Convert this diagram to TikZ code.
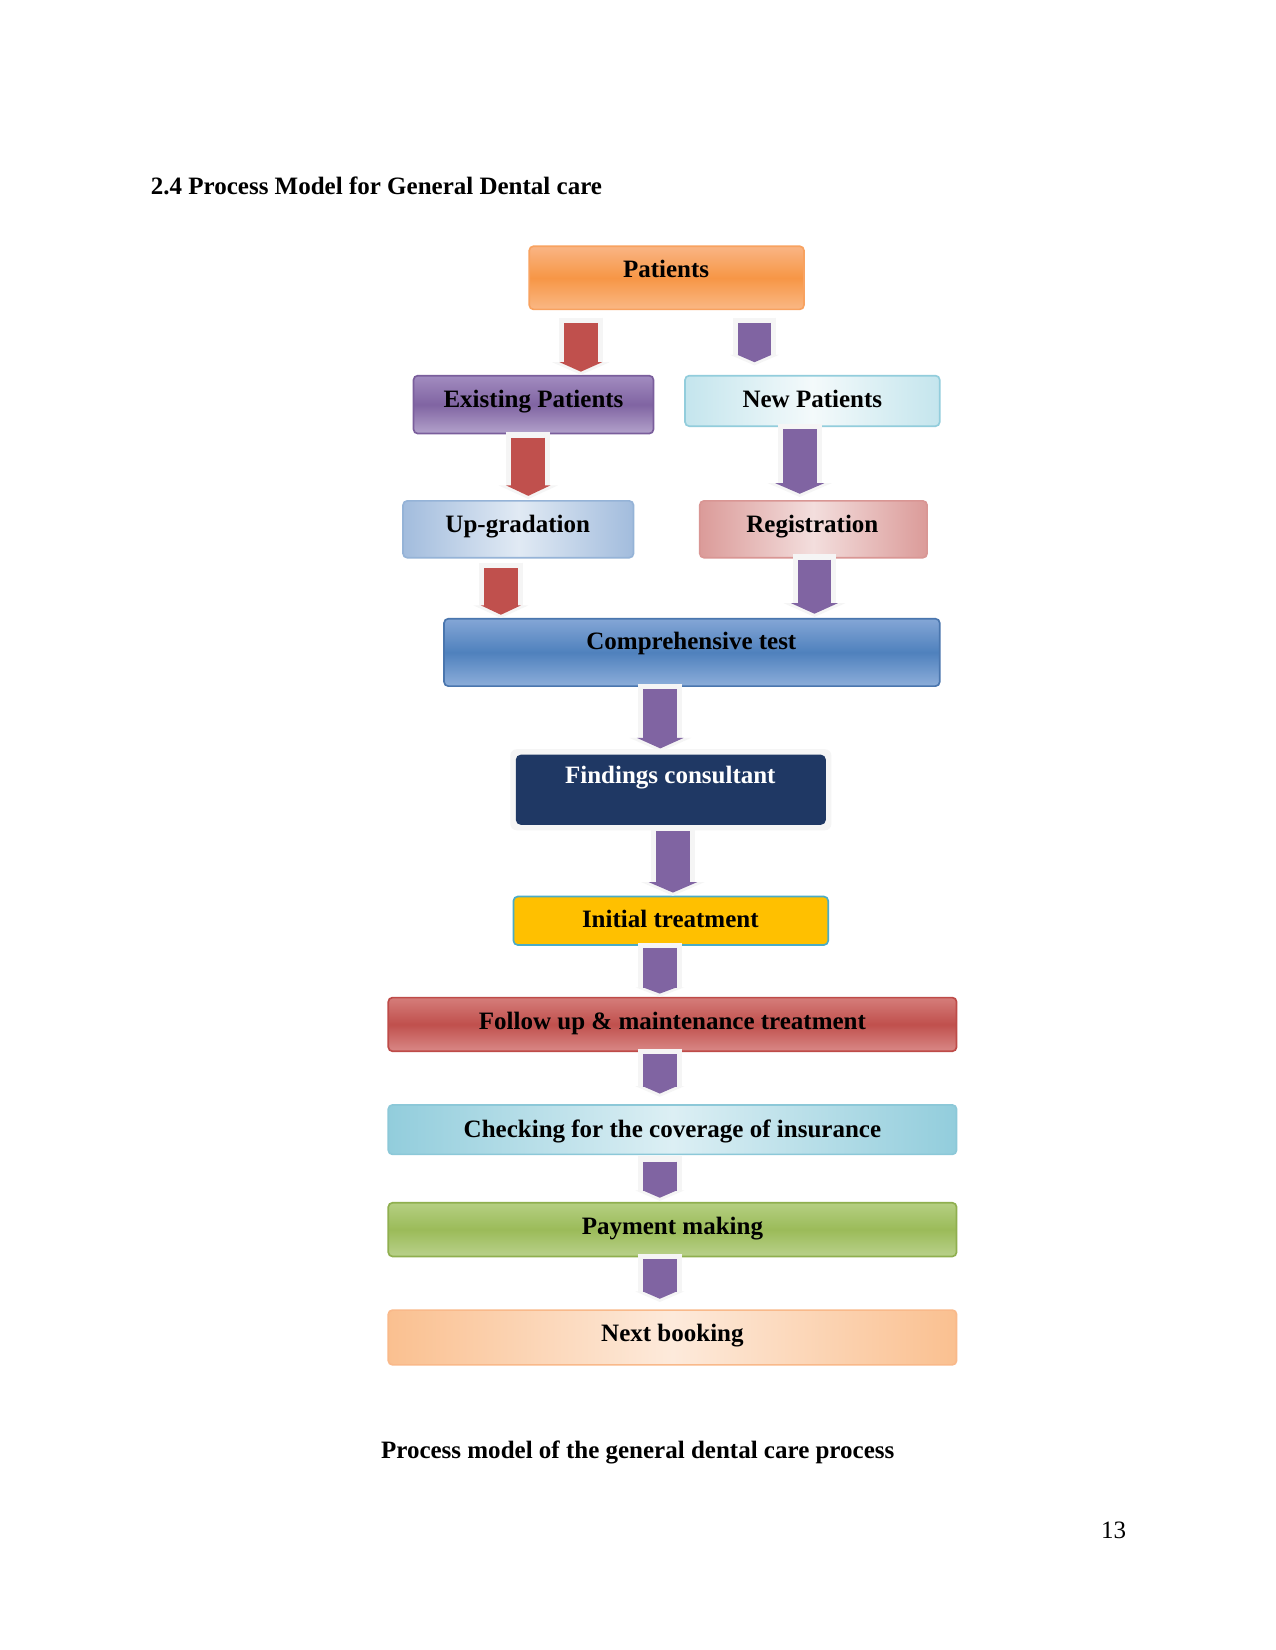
\documentclass[tikz,border=0pt]{standalone}
\usepackage{fontspec}
\setmainfont{Liberation Serif}
\usetikzlibrary{arrows.meta}
\definecolor{Or}{HTML}{F79646}\definecolor{OrTop}{HTML}{F9B584}\definecolor{OrBot}{HTML}{FAB885}\definecolor{OrBorder}{HTML}{F8A260}
\definecolor{Pu}{HTML}{8064A2}\definecolor{PuTop}{HTML}{A28CC0}\definecolor{PuBot}{HTML}{B3A2CB}\definecolor{PuBorder}{HTML}{7A5E9C}
\definecolor{NwEdge}{HTML}{C4E5ED}\definecolor{NwMid}{HTML}{F4FAFB}\definecolor{NwBorder}{HTML}{92CDDC}
\definecolor{UpEdge}{HTML}{A2BCDD}\definecolor{UpMid}{HTML}{E1EAF4}\definecolor{UpBorder}{HTML}{95B3D7}
\definecolor{RgEdge}{HTML}{DB9B99}\definecolor{RgMid}{HTML}{F3DEDD}\definecolor{RgBorder}{HTML}{D99694}
\definecolor{Bl}{HTML}{4F81BD}\definecolor{BlTop}{HTML}{84A6D6}\definecolor{BlBot}{HTML}{8DAEDA}\definecolor{BlBorder}{HTML}{4A76AE}
\definecolor{Navy}{HTML}{1F3864}
\definecolor{Gold}{HTML}{FFC000}\definecolor{Teal}{HTML}{4BACC6}
\definecolor{Rd}{HTML}{C0504D}\definecolor{RdTop}{HTML}{D57D7A}\definecolor{RdBot}{HTML}{D98886}\definecolor{RdBorder}{HTML}{BE4B48}
\definecolor{CkEdge}{HTML}{92CDDC}\definecolor{CkMid}{HTML}{DCEFF4}\definecolor{CkBorder}{HTML}{8CC8D8}
\definecolor{Gr}{HTML}{9BBB59}\definecolor{GrTop}{HTML}{B5CF82}\definecolor{GrBot}{HTML}{B9D18B}\definecolor{GrBorder}{HTML}{8FAF4F}
\definecolor{NbEdge}{HTML}{FAC090}\definecolor{NbMid}{HTML}{FDEADB}\definecolor{NbBorder}{HTML}{F9B98A}
\definecolor{ArRed}{HTML}{C0504D}\definecolor{ArPur}{HTML}{8064A2}
% #1 colour, #2 from, #3 to, #4 x coordinate, #5 gap start px, #6 gap end px, #7 head width px, #8 head length px
\newcommand{\blockarr}[8]{%
  \pgfmathsetmacro\bsA{#5*0.505}%
  \pgfmathsetmacro\beA{#6*0.505}%
  \pgfmathsetmacro\bhw{#7*0.505}%
  \pgfmathsetmacro\bhl{#8*0.505}%
  \pgfmathsetmacro\hsA{(#5-5)*0.505}%
  \pgfmathsetmacro\heA{(#6-3)*0.505}%
  \pgfmathsetmacro\hhw{(#7+14)*0.505}%
  \pgfmathsetmacro\hhl{(#8+3)*0.505}%
  \draw[halo, shorten <=\hsA pt, shorten >=\heA pt, -{Triangle[width=\hhw pt, length=\hhl pt]}] (#2.south -| #4) -- (#3.north -| #4);
  \draw[line width=16.2pt, draw=#1, shorten <=\bsA pt, shorten >=\beA pt, -{Triangle[width=\bhw pt, length=\bhl pt]}] (#2.south -| #4) -- (#3.north -| #4);
}
\begin{document}
\begin{tikzpicture}[x=0.505pt,y=-0.505pt,
  box/.style={draw, rounded corners=2pt, line width=0.8pt, inner sep=0pt},
  bx/.style 2 args={minimum width=#1*0.505pt, minimum height=#2*0.505pt},
  txt/.style={anchor=base, inner sep=0pt, font=\fontsize{12}{14}\selectfont\bfseries},
  plain/.style={inner sep=0pt, font=\fontsize{12}{14}\selectfont},
  halo/.style={line width=21pt, draw=black!4},
  orangeV/.style={draw=OrBorder, top color=OrTop, bottom color=OrBot, middle color=Or},
  purpleV/.style={draw=PuBorder, top color=PuTop, bottom color=PuBot, middle color=Pu},
  newH/.style={draw=NwBorder, left color=NwEdge, right color=NwEdge, middle color=NwMid},
  upH/.style={draw=UpBorder, left color=UpEdge, right color=UpEdge, middle color=UpMid},
  regH/.style={draw=RgBorder, left color=RgEdge, right color=RgEdge, middle color=RgMid},
  blueV/.style={draw=BlBorder, top color=BlTop, bottom color=BlBot, middle color=Bl},
  redV/.style={draw=RdBorder, top color=RdTop, bottom color=RdBot, middle color=Rd},
  checkH/.style={draw=CkBorder, left color=CkEdge, right color=CkEdge, middle color=CkMid},
  greenV/.style={draw=GrBorder, top color=GrTop, bottom color=GrBot, middle color=Gr},
  nextH/.style={draw=NbBorder, left color=NbEdge, right color=NbEdge, middle color=NbMid}
]
\useasboundingbox[fill=white] (0,0) rectangle (1212,1568);

% title, caption, page number
\node[txt, anchor=base west] (title) at (143,185) {2.4 Process Model for General Dental care};
\node[txt] (caption) at (606,1386) {Process model of the general dental care process};
\node[plain, anchor=base west] (pageno) at (1046,1462) {13};

% glow behind findings box
\node[fill=black!4, rounded corners=3pt, inner sep=0pt, bx={305}{77}] (glow) at (637.5,750.5) {};

% boxes
\node[box, orangeV, bx={261}{60}] (pat) at (633.5,264) {};
\node[box, purpleV, bx={228}{55}] (exi) at (507,384.5) {};
\node[box, newH, bx={242}{48}] (new) at (772,381) {};
\node[box, upH, bx={219}{54}] (upg) at (492.5,503) {};
\node[box, regH, bx={216}{54}] (reg) at (773,503) {};
\node[box, blueV, bx={471}{64}] (comp) at (657.5,620) {};
\node[box, draw=Navy, fill=Navy, bx={293}{65}] (find) at (637.5,750.5) {};
\node[box, draw=Teal, fill=Gold, bx={299}{46}] (init) at (637.5,875) {};
\node[box, redV, bx={540}{51}] (foll) at (639,973.5) {};
\node[box, checkH, bx={540}{47}] (chk) at (639,1073.5) {};
\node[box, greenV, bx={540}{51}] (pay) at (639,1168.5) {};
\node[box, nextH, bx={540}{52}] (nxt) at (639,1271) {};

% texts
\node[txt] (pat-t) at (633,264) {Patients};
\node[txt] (exi-t) at (507,387) {Existing Patients};
\node[txt] (new-t) at (772,387) {New Patients};
\node[txt] (upg-t) at (492,506) {Up-gradation};
\node[txt] (reg-t) at (772,506) {Registration};
\node[txt] (comp-t) at (657,617) {Comprehensive test};
\node[txt, text=white] (find-t) at (637,745) {Findings consultant};
\node[txt] (init-t) at (637,881) {Initial treatment};
\node[txt] (foll-t) at (639,978) {Follow up \& maintenance treatment};
\node[txt] (chk-t) at (639,1081) {Checking for the coverage of insurance};
\node[txt] (pay-t) at (639,1173) {Payment making};
\node[txt] (nxt-t) at (639,1275) {Next booking};

% arrow x positions
\coordinate (ax1) at (552,0);
\coordinate (ax2) at (717,0);
\coordinate (ax3) at (502,0);
\coordinate (ax4) at (760,0);
\coordinate (ax5) at (476,0);
\coordinate (ax6) at (774,0);
\coordinate (ax7) at (627.5,0);
\coordinate (ax8) at (639.5,0);
\coordinate (ax9) at (627,0);

% arrows
\blockarr{ArRed}{pat}{exi}{ax1}{12}{3}{40}{9}
\blockarr{ArPur}{pat}{new}{ax2}{12}{12}{32}{7}
\blockarr{ArRed}{exi}{upg}{ax3}{3}{4}{42}{10}
\blockarr{ArPur}{new}{reg}{ax4}{2}{6}{46}{10}
\blockarr{ArRed}{upg}{comp}{ax5}{9}{3}{38}{9}
\blockarr{ArPur}{reg}{comp}{ax6}{1}{4}{44}{10}
\blockarr{ArPur}{comp}{find}{ax7}{2}{6}{44}{10}
\blockarr{ArPur}{find}{init}{ax8}{6}{3}{46}{10}
\blockarr{ArPur}{init}{foll}{ax9}{2}{3}{32}{6}
\blockarr{ArPur}{foll}{chk}{ax9}{2}{10}{32}{7}
\blockarr{ArPur}{chk}{pay}{ax9}{6}{4}{32}{7}
\blockarr{ArPur}{pay}{nxt}{ax9}{2}{10}{32}{7}
\end{tikzpicture}
\end{document}
